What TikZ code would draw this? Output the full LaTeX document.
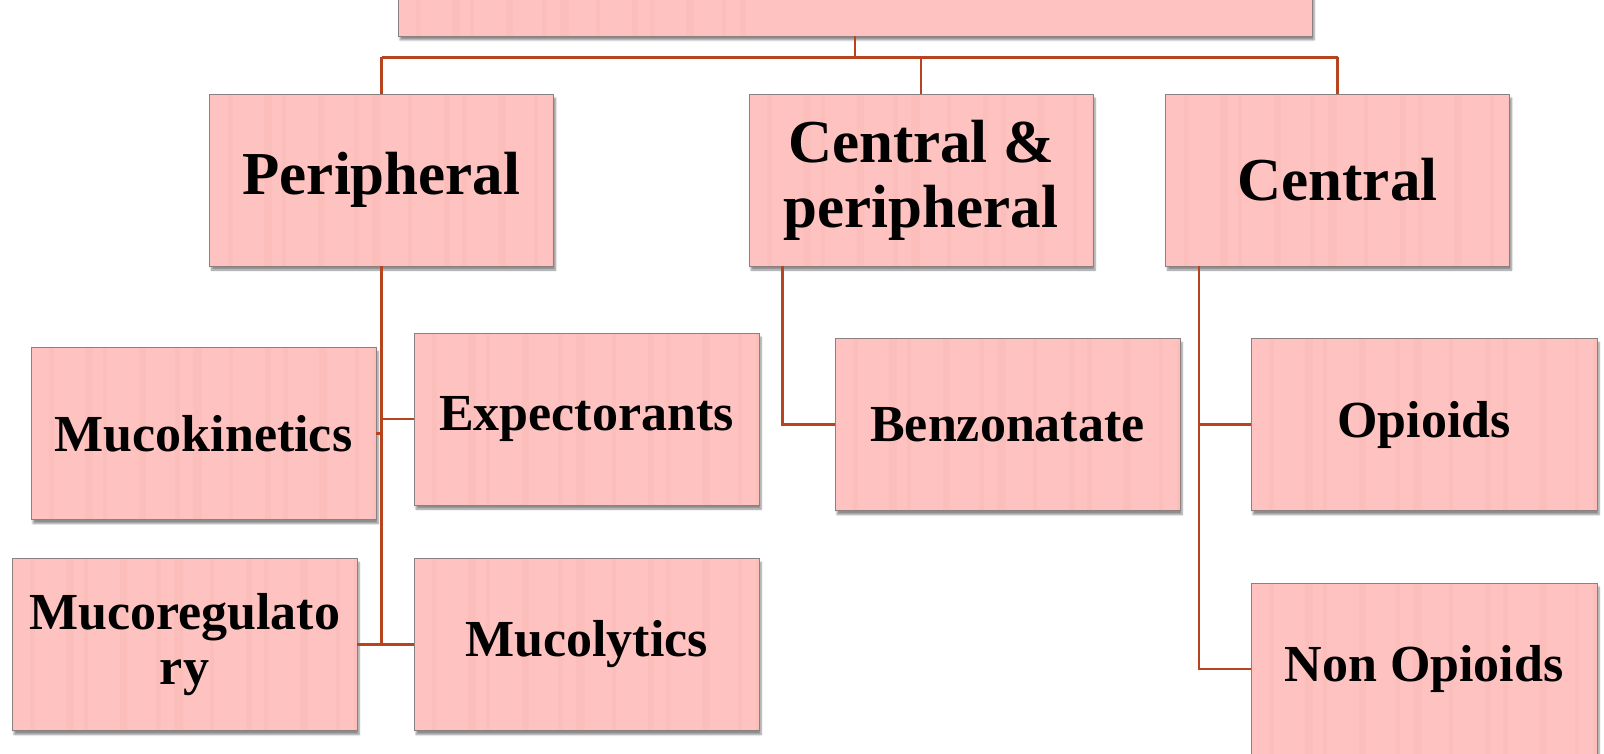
\documentclass[tikz,border=0pt]{standalone}
\usepackage{fontspec}
\setmainfont{Liberation Serif}
\usetikzlibrary{shadows.blur,calc}
\definecolor{boxfill}{HTML}{FEC3C0}
\definecolor{stripe}{HTML}{F5A8A6}
\definecolor{conn}{HTML}{B8441F}
\definecolor{edge}{HTML}{8A8080}
\tikzset{
  box/.style={draw=edge, line width=0.9pt, fill=boxfill, align=center,
    inner sep=0pt, font=\bfseries,
    blur shadow={shadow xshift=2pt, shadow yshift=-4pt, shadow blur steps=6, shadow opacity=45},
    path picture={
      \foreach \k/\w in {1/5,3/8,4/4,6/7,8/5,9/9,11/4,13/6,14/5,16/8,18/4,19/6}{
        \fill[stripe, opacity=0.18]
          ($(path picture bounding box.north west)+(\k*18,0)$) rectangle
          ($(path picture bounding box.south west)+(\k*18+\w,0)$);
      }
    }},
  lvlone/.style={box, minimum width=344pt, minimum height=172pt, font=\bfseries\fontsize{61}{65}\selectfont},
  lvltwo/.style={box, minimum width=345pt, minimum height=172pt, font=\bfseries\fontsize{52}{55}\selectfont},
  link/.style={draw=conn, line width=2.2pt}
}
\begin{document}
\begin{tikzpicture}[x=1pt, y=-1pt]
\useasboundingbox (0,0) rectangle (1604,754);
\clip (0,0) rectangle (1604,754);
% top box (text off the page)
\node[box, minimum width=914pt, minimum height=96pt] (top) at (855,-12) {};
% level one
\node[lvlone] (per) at (381.5,180) {Peripheral};
\node[lvlone] (cp) at (921,180) {Central \&\\peripheral};
\node[lvlone] (cen) at (1337.5,180) {Central};
% level two
\node[lvltwo] (muk) at (203.5,433.5) {Mucokinetics};
\node[lvltwo] (mur) at (184.5,644.5) {Mucoregulato\\ry};
\node[lvltwo] (exp) at (586.5,419) {Expectorants};
\node[lvltwo] (mul) at (586.5,644.5) {Mucolytics};
\node[lvltwo] (ben) at (1007.5,424.5) {Benzonatate};
\node[lvltwo, minimum width=346pt] (opi) at (1424,424.5) {Opioids};
\node[lvltwo, minimum width=346pt] (non) at (1424,669) {Non Opioids};
% connectors
\coordinate (bus) at ($(top.south)+(0,21)$);
\draw[link] (top.south) -- (bus);
\draw[link] (per.north |- bus) -- (cen.north |- bus);
\draw[link] (per.north |- bus) -- (per.north);
\draw[link] (cp.north |- bus) -- (cp.north);
\draw[link] (cen.north |- bus) -- (cen.north);
% peripheral
\draw[link] (per.south) -- (per.south |- mur.east);
\draw[link] (per.south |- exp.west) -- (exp.west);
\draw[link] (muk.east) -- (muk.east -| per.south);
\draw[link] (mur.east) -- (mul.west);
% central & peripheral
\coordinate (cpx) at ($(cp.south west)+(34,0)$);
\draw[link] (cpx) |- (ben.west);
% central
\coordinate (cenx) at ($(cen.south west)+(34,0)$);
\draw[link] (cenx) |- (non.west);
\draw[link] (opi.west) -- (opi.west -| cenx);
\end{tikzpicture}
\end{document}
